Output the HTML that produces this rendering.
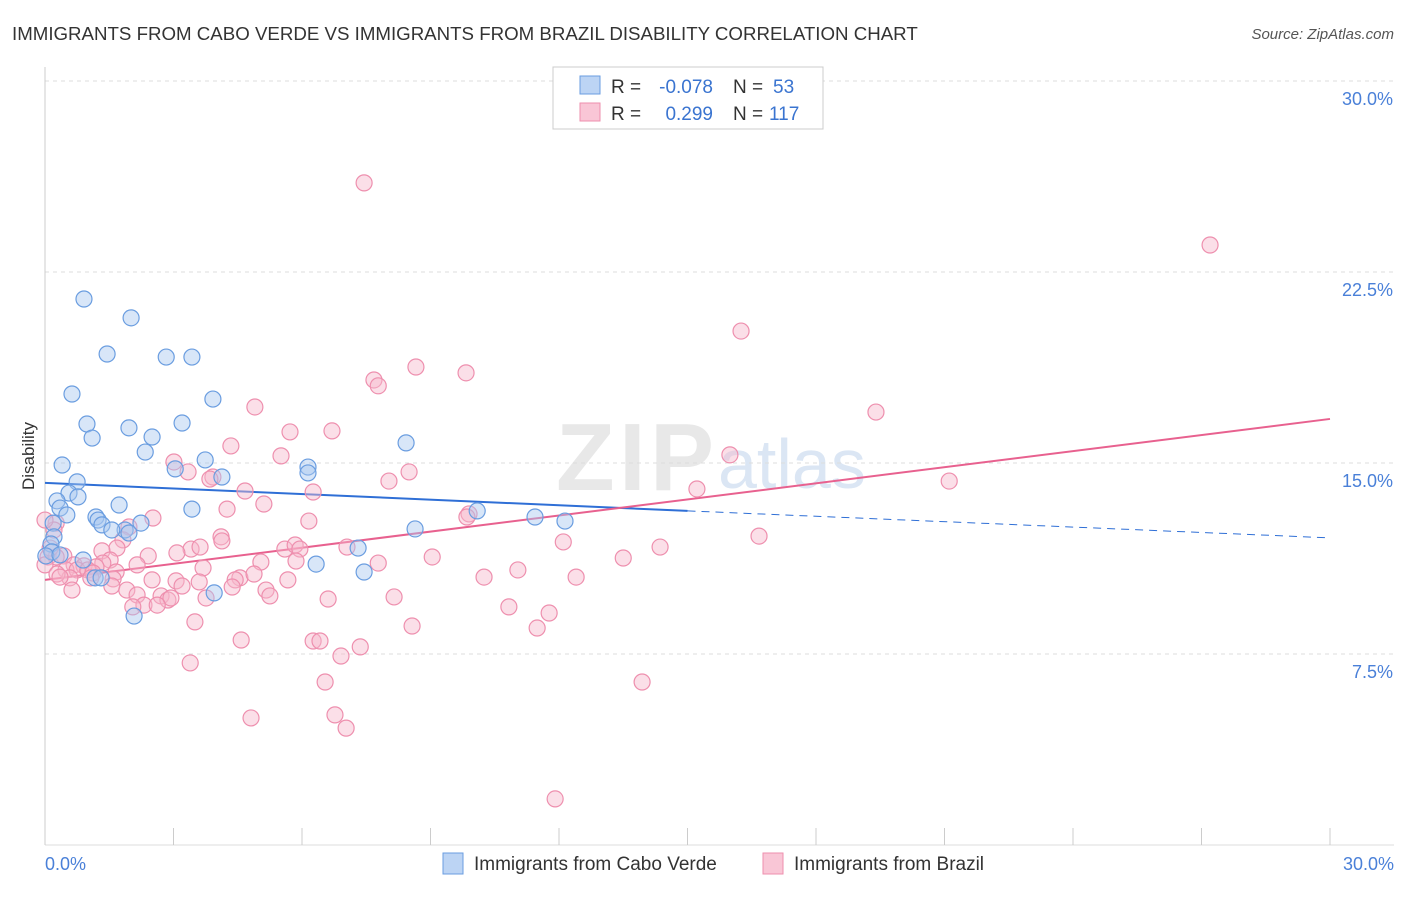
<!DOCTYPE html>
<html><head><meta charset="utf-8"><style>
body{margin:0;background:#fff;font-family:"Liberation Sans",sans-serif}
svg text{font-family:"Liberation Sans",sans-serif}
</style></head><body>
<svg id="chart" width="1406" height="892" xmlns="http://www.w3.org/2000/svg">
<text x="12" y="40" font-size="18.7" fill="#333">IMMIGRANTS FROM CABO VERDE VS IMMIGRANTS FROM BRAZIL DISABILITY CORRELATION CHART</text>
<text x="1394" y="39" font-size="15" fill="#555" font-style="italic" text-anchor="end">Source: ZipAtlas.com</text>
<text x="714" y="490" font-size="96" fill="#e8e8e8" text-anchor="end" font-family="Liberation Serif" font-weight="bold" textLength="158">ZIP</text>
<text x="718" y="488" font-size="70" fill="#dbe6f4">atlas</text>
<g id="grid"></g><g id="axes"></g><g id="trends"></g><g id="dots"></g>
<text x="34" y="456" font-size="17" fill="#333" transform="rotate(-90 34 456)" text-anchor="middle">Disability</text>
<text x="45" y="870" font-size="18" fill="#4a80d8">0.0%</text>
<text x="1394" y="870" font-size="18" fill="#4a80d8" text-anchor="end">30.0%</text>
<g>
<rect x="553" y="67" width="270" height="62" fill="#fff" stroke="#ccc"/>
<rect x="580" y="76" width="20" height="18" fill="#bcd4f4" stroke="#6a9de0"/>
<rect x="580" y="103" width="20" height="18" fill="#f9c6d6" stroke="#ee8fae"/>
<text x="611" y="93" font-size="19" fill="#333">R =</text>
<text x="713" y="93" font-size="19" fill="#3a74d0" text-anchor="end">-0.078</text>
<text x="733" y="93" font-size="19" fill="#333">N =</text>
<text x="773" y="93" font-size="19" fill="#3a74d0">53</text>
<text x="611" y="120" font-size="19" fill="#333">R =</text>
<text x="713" y="120" font-size="19" fill="#3a74d0" text-anchor="end">0.299</text>
<text x="733" y="120" font-size="19" fill="#333">N =</text>
<text x="769" y="120" font-size="19" fill="#3a74d0">117</text>
</g>
<g><rect x="443" y="853" width="20" height="21" fill="#bcd4f4" stroke="#6a9de0"/><text x="474" y="870" font-size="19" fill="#333">Immigrants from Cabo Verde</text></g>
<g><rect x="763" y="853" width="20" height="21" fill="#f9c6d6" stroke="#ee8fae"/><text x="794" y="870" font-size="19" fill="#333">Immigrants from Brazil</text></g>
</svg>
<script>
const yTicks=[7.5,15,22.5,30];
const yTickLabels=["7.5%","15.0%","22.5%","30.0%"];
const xTicks=[0,3,6,9,12,15,18,21,24,27,30];
const blueX=[0.91,2.01,1.45,2.83,3.43,0.63,3.92,0.98,1.96,3.20,1.10,2.50,2.34,0.40,3.74,3.04,4.13,6.14,6.14,8.43,0.75,0.56,0.77,0.28,0.35,0.51,1.73,3.43,1.19,1.24,1.33,2.24,1.87,1.96,1.56,0.19,0.21,0.14,0.16,0.89,1.17,1.31,3.95,2.08,6.33,7.31,7.45,8.64,10.09,11.44,12.14,0.02,0.35];
const blueY=[21.44,20.70,19.28,19.16,19.16,17.71,17.51,16.53,16.38,16.57,15.98,16.02,15.43,14.92,15.12,14.77,14.45,14.84,14.61,15.79,14.26,13.82,13.67,13.51,13.23,12.96,13.35,13.19,12.88,12.76,12.57,12.64,12.37,12.25,12.37,12.64,12.10,11.82,11.51,11.19,10.49,10.49,9.90,8.99,11.03,11.66,10.72,12.41,13.12,12.88,12.72,11.35,11.39];
const pinkX=[7.45,27.20,16.25,8.66,9.83,7.68,7.78,19.40,4.90,5.72,6.70,4.34,15.99,5.51,8.50,3.01,3.34,3.92,3.85,8.03,21.11,15.22,4.67,6.26,5.11,4.25,2.52,9.90,9.85,6.16,16.67,12.10,14.36,0.26,0.21,1.96,1.82,4.11,4.13,1.68,1.33,2.41,3.41,3.62,5.60,5.84,5.95,7.05,9.04,13.50,0.44,0.07,0.26,1.52,1.35,0.68,0.91,1.19,2.15,3.08,5.04,5.86,7.78,11.04,0.00,0.49,0.75,1.00,1.12,1.66,1.07,0.58,0.28,0.35,1.59,2.50,3.06,3.69,4.55,4.88,5.67,10.25,12.40,0.63,1.56,1.91,3.20,3.60,4.44,5.16,5.25,8.15,2.15,2.71,2.87,2.94,3.76,2.31,2.62,4.37,6.61,10.83,11.77,2.05,3.50,8.57,11.49,4.58,6.26,6.42,7.36,6.91,3.39,13.94,6.54,4.81,6.77,7.03,11.91,0.00,0.12];
const pinkY=[26.00,23.56,20.18,18.77,18.54,18.26,18.03,17.00,17.20,16.22,16.26,15.67,15.32,15.28,14.65,15.04,14.65,14.45,14.37,14.29,14.29,13.98,13.90,13.86,13.39,13.19,12.84,13.00,12.88,12.72,12.13,11.90,11.70,12.64,12.37,12.49,11.98,12.10,11.94,11.66,11.55,11.35,11.62,11.70,11.62,11.78,11.62,11.70,11.31,11.27,11.35,11.31,11.31,11.19,11.07,11.00,10.96,10.92,11.00,11.47,11.11,11.15,11.07,10.80,11.00,10.80,10.80,10.80,10.68,10.72,10.49,10.49,10.64,10.52,10.45,10.41,10.37,10.88,10.49,10.64,10.41,10.52,10.52,10.01,10.17,10.01,10.17,10.33,10.41,10.01,9.78,9.74,9.82,9.78,9.62,9.70,9.70,9.42,9.42,10.13,9.66,9.35,9.11,9.35,8.76,8.60,8.52,8.05,8.01,8.01,7.78,7.42,7.15,6.40,6.40,4.99,5.11,4.59,1.81,12.76,11.66];
const blueTrend=[14.22,13.12,12.06];
const pinkTrend=[10.41,16.73];
const X0=45,X1=1330,Y0=845;
const sx=v=>X0+(X1-X0)*v/30;
const sy=v=>Y0-v*191/7.5;
const NS="http://www.w3.org/2000/svg";
function mk(tag,attrs,parent){const e=document.createElementNS(NS,tag);for(const k in attrs)e.setAttribute(k,attrs[k]);parent.appendChild(e);return e;}
const grid=document.getElementById('grid'),axes=document.getElementById('axes'),trends=document.getElementById('trends'),dots=document.getElementById('dots');
yTicks.forEach((t,i)=>{
 const l=mk('line',{x1:X0,x2:1394,y1:sy(t),y2:sy(t),stroke:'#ddd','stroke-dasharray':'4,4'},grid);
 
 
 const tx=mk('text',{x:1393,y:sy(t)+24,'font-size':18,fill:'#4a80d8','text-anchor':'end'},grid);
 tx.textContent=yTickLabels[i];
 
 
});
const ax=mk('line',{x1:X0,x2:X0,y1:67,y2:Y0,stroke:'#ccc'},axes);


const bx=mk('line',{x1:X0,x2:1394,y1:Y0,y2:Y0,stroke:'#ddd'},axes);


xTicks.forEach(t=>{
 const l=mk('line',{x1:sx(t),x2:sx(t),y1:Y0-17,y2:Y0,stroke:'#ccc'},axes);
 
 
});
function dot(x,y,fill,stroke,name){
 const c=mk('circle',{cx:sx(x),cy:sy(y),r:8,fill:fill,'fill-opacity':0.45,stroke:stroke,'stroke-width':1.2},dots);
 
 
}
pinkX.forEach((x,i)=>dot(x,pinkY[i],'#f7b8cb','#ee8fae','brazil-point'));
blueX.forEach((x,i)=>dot(x,blueY[i],'#a9c7ef','#6a9de0','cabo-verde-point'));
const b1=mk('line',{x1:sx(0),y1:sy(blueTrend[0]),x2:sx(15),y2:sy(blueTrend[1]),stroke:'#2f6fd6','stroke-width':2},trends);


const b2=mk('line',{x1:sx(15),y1:sy(blueTrend[1]),x2:sx(30),y2:sy(blueTrend[2]),stroke:'#2f6fd6','stroke-width':1,'stroke-dasharray':'8,6'},trends);


const p1=mk('line',{x1:sx(0),y1:sy(pinkTrend[0]),x2:sx(30),y2:sy(pinkTrend[1]),stroke:'#e8618f','stroke-width':2},trends);


</script>
</body></html>
